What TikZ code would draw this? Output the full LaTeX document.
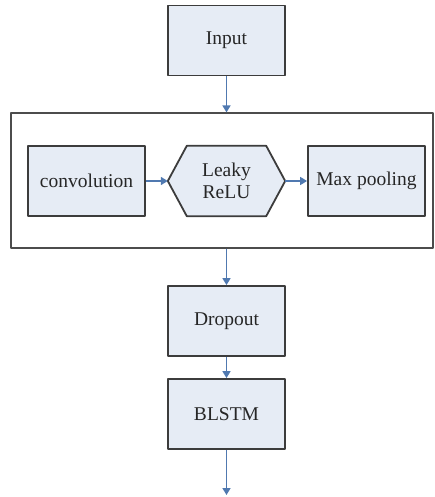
\documentclass[tikz,border=0pt]{standalone}
\usepackage{fontspec}
\setmainfont{Liberation Serif}
\usetikzlibrary{arrows.meta}
\definecolor{boxfill}{HTML}{E6ECF5}
\definecolor{boxline}{HTML}{3C3C3C}
\definecolor{arrowblue}{HTML}{5079B0}
\begin{document}
\begin{tikzpicture}[x=1pt,y=-1pt,>={Triangle[length=7pt,width=8pt]}, font=\rmfamily\fontsize{19.5}{22}\selectfont, line join=round]
	\tikzset{
		layer/.style={draw=boxline,line width=1.8pt,fill=boxfill,minimum width=117pt,minimum height=70pt,inner sep=0pt,text=black!85},
		flow/.style={->,draw=arrowblue,fill=arrowblue,line width=1.6pt}
	}
	\useasboundingbox (0,0) rectangle (434,497);
	% outer block
	\node[draw=black!70,line width=1.2pt,minimum width=422pt,minimum height=135pt,inner sep=0pt] (block) at (222,180.5) {};
	\node[layer] (input) at (226.5,40.5) {Input};
	\node[layer] (conv) at (86.5,181) {convolution};
	\node[minimum width=117pt,minimum height=70pt,inner sep=0pt] (relu) at (226.5,181) {};
	\fill[boxfill,draw=boxline,line width=1.8pt]
		(relu.west)--([xshift=19pt]relu.north west)--([xshift=-19pt]relu.north east)
		--(relu.east)--([xshift=-19pt]relu.south east)--([xshift=19pt]relu.south west)--cycle;
	\node[align=center,text=black!85] at (relu) {Leaky\\ReLU};
	\node[layer] (pool) at (366.5,181) {Max pooling};
	\node[layer] (drop) at (226.5,321) {Dropout};
	\node[layer] (blstm) at (226.5,414) {BLSTM};
	\coordinate (out) at (226.5,495);
	% connectors
	\draw[flow] (input)--(input.south |- block.north);
	\draw[flow] (conv)--(relu);
	\draw[flow] (relu)--(pool);
	\draw[flow] (drop.north |- block.south)--(drop);
	\draw[flow] (drop)--(blstm);
	\draw[flow] (blstm)--(out);
\end{tikzpicture}
\end{document}
